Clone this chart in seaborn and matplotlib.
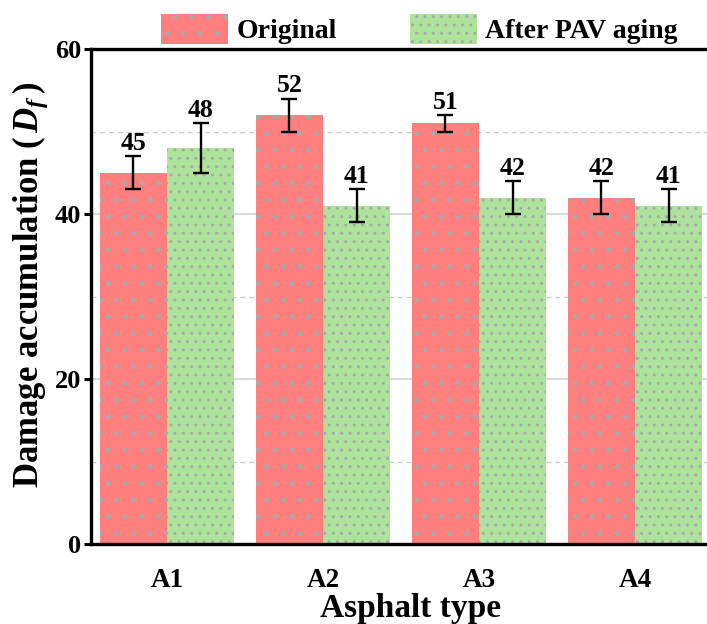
import matplotlib
matplotlib.use("Agg")
import matplotlib.pyplot as plt
import seaborn as sns
import pandas as pd
import numpy as np
from matplotlib.ticker import MultipleLocator
from matplotlib.patches import Patch
from matplotlib.container import BarContainer

categories = ["A1", "A2", "A3", "A4"]
series_names = ["Original", "After PAV aging"]
original = [45, 52, 51, 42]
original_err = [2, 2, 1, 2]
aged = [48, 41, 42, 41]
aged_err = [3, 2, 2, 2]

colors = ["#ff7f7f", "#ade39b"]
hatches = [".", ".."]

sns.set_theme(style="white")
plt.rcParams["font.family"] = ["Liberation Serif", "DejaVu Serif"]
plt.rcParams["font.weight"] = "bold"
plt.rcParams["text.color"] = "black"
plt.rcParams["axes.labelcolor"] = "black"
plt.rcParams["xtick.color"] = "black"
plt.rcParams["ytick.color"] = "black"
plt.rcParams["mathtext.fontset"] = "custom"
plt.rcParams["mathtext.rm"] = "Liberation Serif:bold"
plt.rcParams["mathtext.it"] = "Liberation Serif:italic:bold"
plt.rcParams["mathtext.bf"] = "Liberation Serif:bold"
plt.rcParams["hatch.linewidth"] = 1.0

df = pd.DataFrame({
    "Asphalt type": categories * 2,
    "Series": [series_names[0]] * 4 + [series_names[1]] * 4,
    "value": original + aged,
})

fig = plt.figure(figsize=(7.07, 6.24), dpi=100)
ax = fig.add_axes([91 / 707, 80 / 624, 622 / 707, 495 / 624])

sns.barplot(data=df, x="Asphalt type", y="value", hue="Series",
            palette=colors, width=0.86, errorbar=None, ax=ax,
            saturation=1, legend=False, zorder=2)

errs = [original_err, aged_err]
vals = [original, aged]
bar_conts = [c for c in ax.containers if isinstance(c, BarContainer)]
for ci, cont in enumerate(bar_conts):
    for bi, p in enumerate(list(cont.patches)):
        p.set_edgecolor("#a9a9a9")
        p.set_linewidth(0)
        p.set_hatch(hatches[ci])
        xc = p.get_x() + p.get_width() / 2
        v = vals[ci][bi]
        e = errs[ci][bi]
        ax.errorbar(xc, v, yerr=e, fmt="none", ecolor="black",
                    elinewidth=1.7, capsize=6, capthick=1.7, zorder=4)
        ax.annotate(str(v), (xc, v + e), xytext=(0, 1), textcoords="offset points",
                    ha="center", va="bottom", fontsize=18.5, fontweight="bold",
                    color="black")

ax.set_ylim(0, 60)
ax.set_xlim(-0.487, 3.5)
ax.yaxis.set_major_locator(MultipleLocator(20))
ax.yaxis.set_minor_locator(MultipleLocator(10))
ax.grid(axis="y", which="major", color="#d9d9d9", linewidth=1.5, linestyle="-", zorder=0)
ax.grid(axis="y", which="minor", color="#c8c8c8", linewidth=0.9, linestyle=(0, (4, 3)), zorder=0)
ax.set_axisbelow(True)

for s in ["left", "top", "bottom"]:
    ax.spines[s].set_linewidth(2.4)
    ax.spines[s].set_color("black")
ax.spines["right"].set_visible(False)

ax.tick_params(axis="y", which="major", direction="out", length=5, width=2.2,
               labelsize=19, pad=2, left=True, color="black")
ax.tick_params(axis="y", which="minor", length=0)
ax.tick_params(axis="x", which="major", length=0, labelsize=19.5, pad=17)
for lab in ax.get_xticklabels() + ax.get_yticklabels():
    lab.set_fontweight("bold")

ax.set_xlabel("Asphalt type", fontsize=24, fontweight="bold")
ax.set_ylabel(r"Damage accumulation ($\,D_f\,$)", fontsize=25, fontweight="bold")
ax.xaxis.set_label_coords(0.514, -0.099)
ax.yaxis.label.set_horizontalalignment("left")
ax.yaxis.set_label_coords(-0.066, (544 - 488) / 495)

handles = [Patch(facecolor=colors[i], edgecolor="#a9a9a9", linewidth=0,
                 hatch=hatches[i], label=series_names[i]) for i in range(2)]
leg = ax.legend(handles=handles, loc="center", bbox_to_anchor=(0.528, 1.04),
                ncol=2, frameon=False, handlelength=2.4,
                handleheight=1.25, columnspacing=2.65, handletextpad=0.3,
                borderaxespad=0, prop={"weight": "bold", "size": 20})

fig.savefig("out.png", dpi=100)
